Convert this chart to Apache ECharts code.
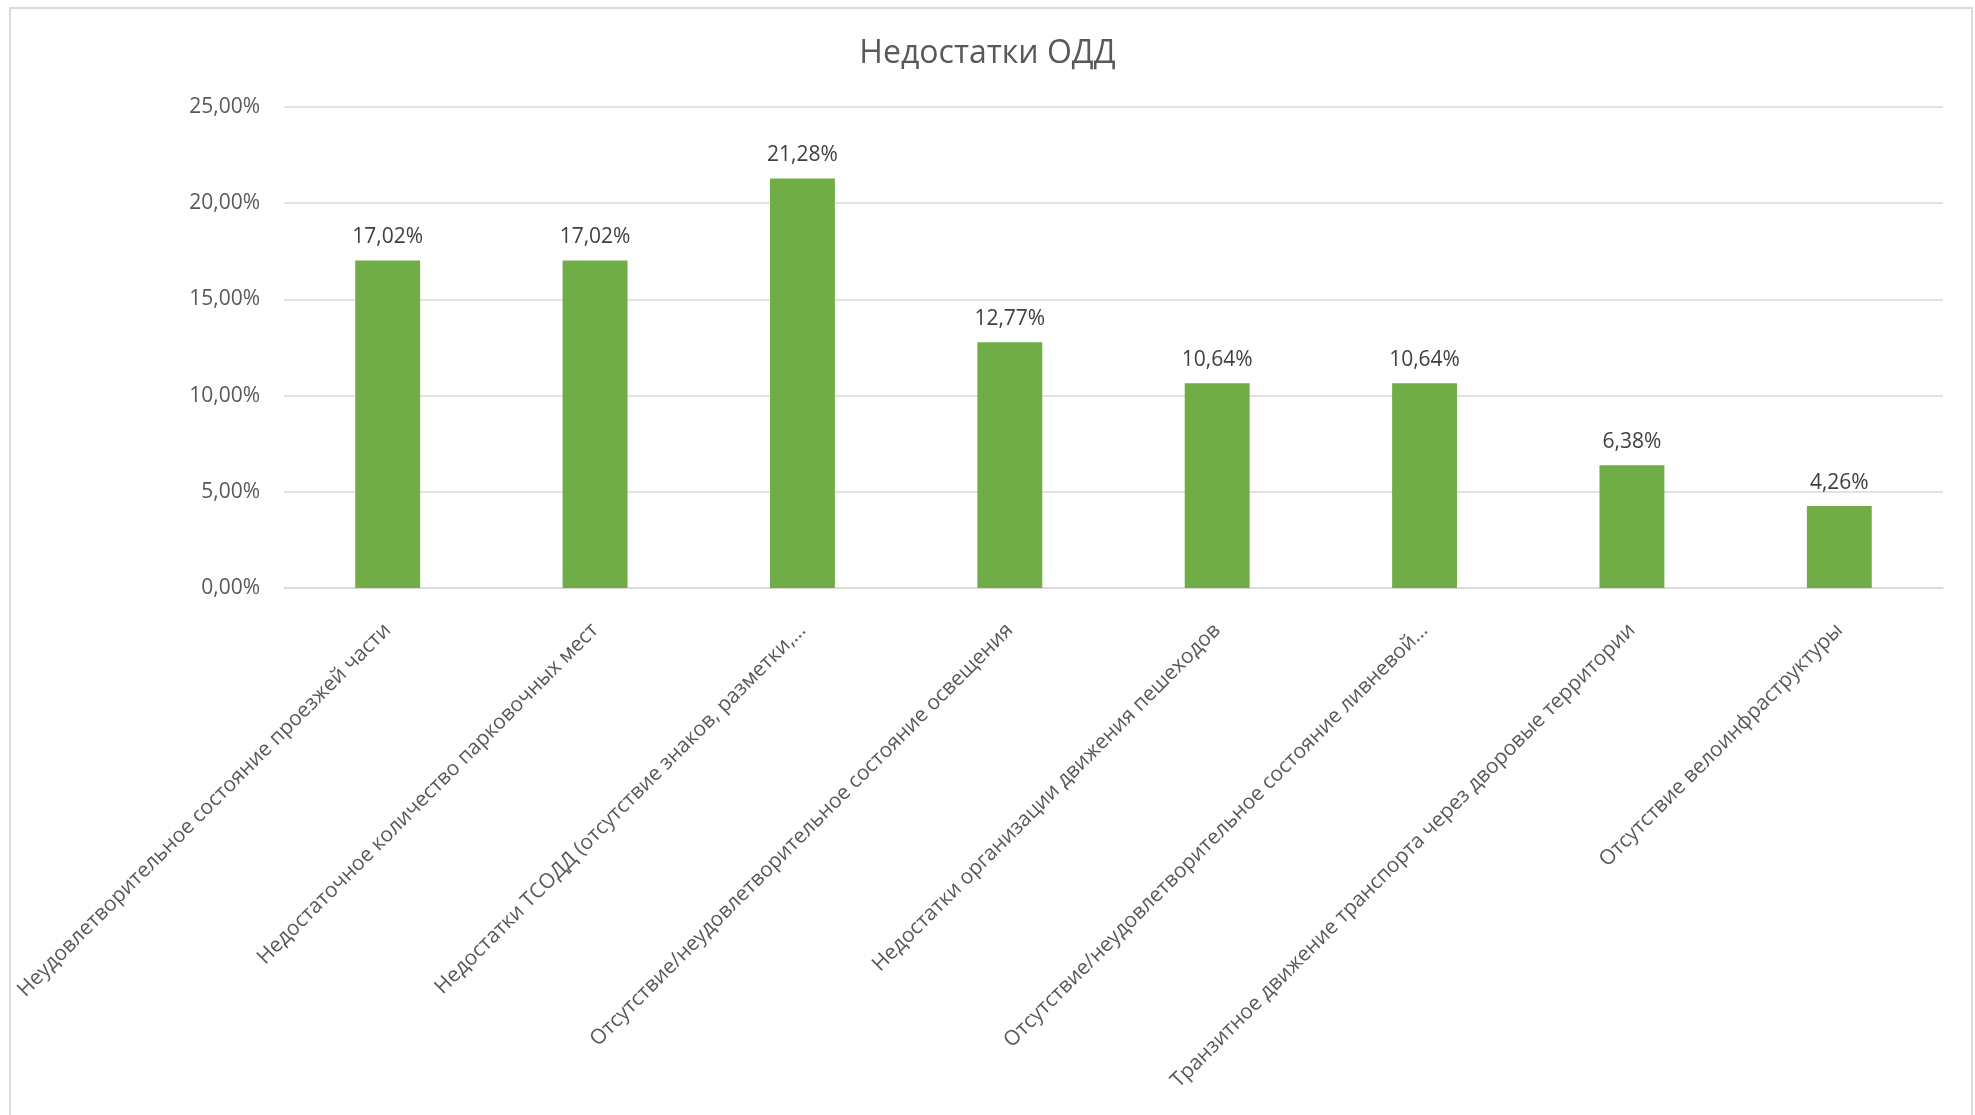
<!DOCTYPE html>
<html>
<head>
<meta charset="utf-8">
<script src="https://cdn.jsdelivr.net/npm/echarts@6/dist/echarts.min.js"></script>
<style>
html,body{margin:0;padding:0;background:#fff;}
#chart{width:1975px;height:1115px;}
</style>
</head>
<body>
<div id="chart"></div>
<script>
const titleText = 'Недостатки ОДД';
const categories = [
  'Неудовлетворительное состояние проезжей части',
  'Недостаточное количество парковочных мест',
  'Недостатки ТСОДД (отсутствие знаков, разметки,…',
  'Отсутствие/неудовлетворительное состояние освещения',
  'Недостатки организации движения пешеходов',
  'Отсутствие/неудовлетворительное состояние ливневой…',
  'Транзитное движение транспорта через дворовые территории',
  'Отсутствие велоинфраструктуры'
];
const values = [17.02, 17.02, 21.28, 12.77, 10.64, 10.64, 6.38, 4.26];
const yMin = 0, yMax = 25, yStep = 5;

const fmt = v => v.toFixed(2).replace('.', ',') + '%';
const FONT = 'Open Sans';

const chart = echarts.init(document.getElementById('chart'));
chart.setOption({
  backgroundColor: '#ffffff',
  animation: false,
  textStyle: { fontFamily: FONT },
  title: {
    text: titleText,
    left: 'center',
    top: 33,
    textStyle: { fontFamily: FONT, fontSize: 32, fontWeight: 'normal', color: '#595959' }
  },
  graphic: [{
    type: 'rect',
    shape: { x: 10, y: 8, width: 1962, height: 1200 },
    style: { fill: 'none', stroke: '#D9D9D9', lineWidth: 2 },
    silent: true, z: -1
  }],
  grid: { left: 284, right: 32, top: 107, bottom: 527, containLabel: false },
  xAxis: {
    type: 'category',
    data: categories,
    axisLine: { show: true, lineStyle: { color: '#D9D9D9', width: 1.5 } },
    axisTick: { show: false },
    axisLabel: {
      interval: 0, rotate: 45, margin: 39,
      fontFamily: FONT, fontSize: 20.8, color: '#595959'
    }
  },
  yAxis: {
    type: 'value',
    min: yMin, max: yMax, interval: yStep,
    axisLine: { show: false },
    axisTick: { show: false },
    splitLine: { lineStyle: { color: '#D9D9D9', width: 1.5 } },
    axisLabel: {
      margin: 24, fontFamily: FONT, fontSize: 21, color: '#595959',
      formatter: v => fmt(v)
    }
  },
  series: [{
    type: 'bar',
    data: values,
    barWidth: '31.3%',
    itemStyle: { color: '#70AD47' },
    label: {
      show: true, position: 'top', distance: 13,
      fontFamily: FONT, fontSize: 21, color: '#404040',
      formatter: p => fmt(p.value)
    }
  }]
});
</script>
</body>
</html>
